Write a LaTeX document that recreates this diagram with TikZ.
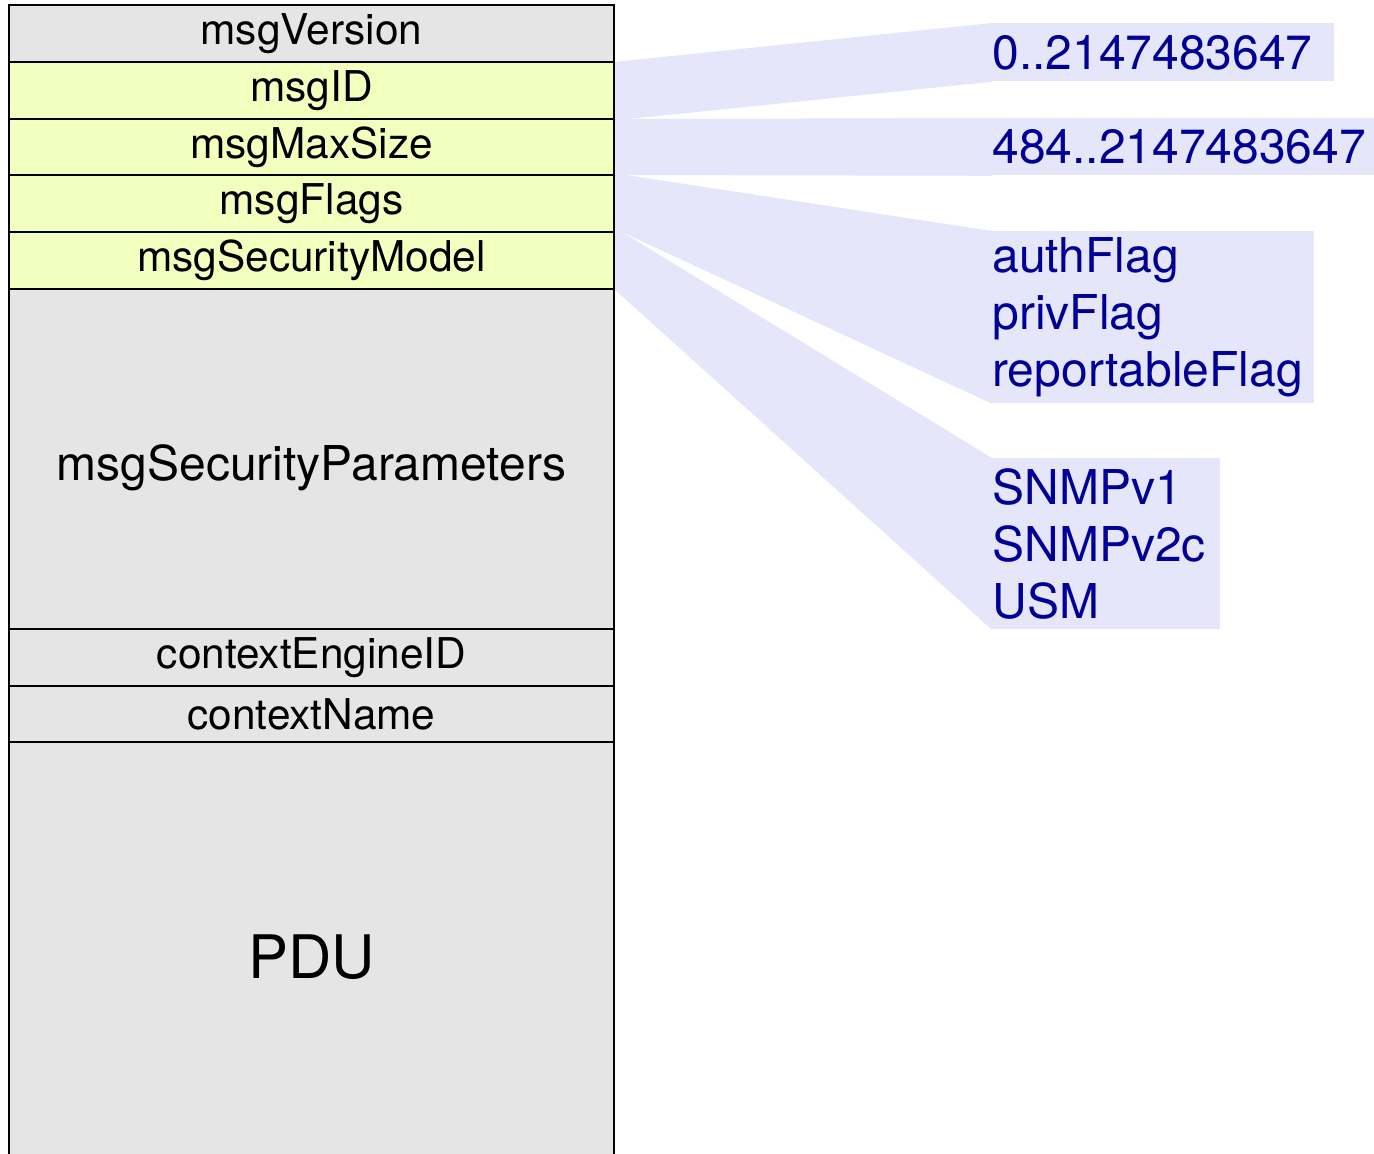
\documentclass[tikz,border=0pt]{standalone}
\usepackage{fontspec}
\setmainfont{TeX Gyre Heros}
\usepackage{tikz}
\usetikzlibrary{backgrounds}

\definecolor{fieldgray}{RGB}{229,229,229}
\definecolor{fieldyellow}{RGB}{242,255,191}
\definecolor{calloutfill}{RGB}{230,230,250}
\definecolor{valblue}{RGB}{0,0,150}

\begin{document}
\begin{tikzpicture}[x=0.5pt, y=-0.5pt,
		field/.style={draw=black, line width=1pt, fill=fieldgray, anchor=north west,
			minimum width=302.5pt, minimum height=28.5pt, inner sep=0pt, outer sep=0pt,
			font=\fontsize{21.2}{25}\selectfont},
		hdr/.style={field, fill=fieldyellow},
		vals/.style={fill=calloutfill, text=valblue, anchor=north west, inner sep=0pt,
			align=left, font=\fontsize{24}{28.5}\selectfont},
		fan/.style={fill=calloutfill}]
			\useasboundingbox (0,0) rectangle (1374,1154);
			\node[field] (ver) at (9,5) {msgVersion};
			\node[hdr] (id) at (9,62) {msgID};
			\node[hdr, minimum height=28pt] (size) at (9,119) {msgMaxSize};
			\node[hdr] (flags) at (9,175) {msgFlags};
			\node[hdr] (model) at (9,232) {msgSecurityModel};
			\node[field, minimum height=170pt, text height=27pt, font=\fontsize{24}{28}\selectfont] (params) at (9,289) {msgSecurityParameters};
			\node[field] (engine) at (9,629) {contextEngineID};
			\node[field, minimum height=28pt] (cname) at (9,686) {contextName};
			\node[field, minimum height=215pt, font=\fontsize{30}{36}\selectfont] (pdu) at (9,742) {PDU};
			% value ranges
			\node[vals, text width=171pt, minimum height=29pt] (v1) at (992,23) {0..2147483647};
			\node[vals, text width=191pt, minimum height=28.5pt] (v2) at (992,118) {484..2147483647};
			\node[vals, text width=161pt, minimum height=86pt] (v3) at (992,231) {authFlag\\privFlag\\reportableFlag};
			\node[vals, text width=114pt, minimum height=85.5pt] (v4) at (992,458) {SNMPv1\\SNMPv2c\\USM};
			\begin{pgfonlayer}{background}
			\fill[fan] (id.north east) -- (v1.north west) -- (v1.south west) -- ([xshift=7pt]id.south east) -- (id.south east) -- cycle;
			\fill[fan] (size.north east) -- (v2.north west) -- (v2.south west) -- (size.south east) -- cycle;
			\fill[fan] (flags.north east) -- ([xshift=6pt]flags.north east) -- (v3.north west) -- (v3.south west) -- ([xshift=4pt]flags.south east) -- (flags.south east) -- cycle;
			\fill[fan] (model.north east) -- ([xshift=4pt]model.north east) -- (v4.north west) -- (v4.south west) -- (model.south east) -- cycle;
			\end{pgfonlayer}
\end{tikzpicture}
\end{document}
